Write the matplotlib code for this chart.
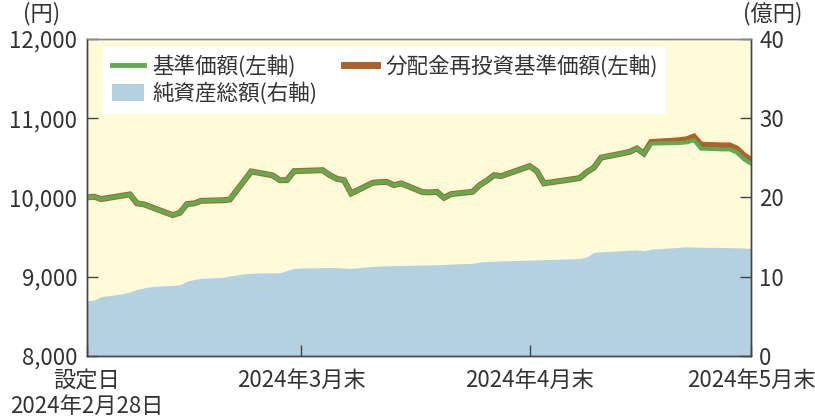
import numpy as np
import pandas as pd
import matplotlib
matplotlib.use("Agg")
import matplotlib.pyplot as plt
import matplotlib.dates as mdates
from matplotlib.lines import Line2D
from matplotlib.patches import Patch
from matplotlib.ticker import FuncFormatter, MultipleLocator

plt.rcParams['font.family'] = ['Noto Sans CJK JP', 'DejaVu Sans']

# 営業日
dates = [
    "2024-02-28", "2024-02-29", "2024-03-01", "2024-03-04", "2024-03-05", "2024-03-06",
    "2024-03-07", "2024-03-08", "2024-03-11", "2024-03-12", "2024-03-13", "2024-03-14",
    "2024-03-15", "2024-03-18", "2024-03-19", "2024-03-21", "2024-03-22", "2024-03-25",
    "2024-03-26", "2024-03-27", "2024-03-28", "2024-03-29",
    "2024-04-01", "2024-04-02", "2024-04-03", "2024-04-04", "2024-04-05", "2024-04-08",
    "2024-04-09", "2024-04-10", "2024-04-11", "2024-04-12", "2024-04-15", "2024-04-16",
    "2024-04-17", "2024-04-18", "2024-04-19", "2024-04-22", "2024-04-23", "2024-04-24",
    "2024-04-25", "2024-04-26", "2024-04-30",
    "2024-05-01", "2024-05-02", "2024-05-07", "2024-05-08", "2024-05-09", "2024-05-10",
    "2024-05-13", "2024-05-14", "2024-05-15", "2024-05-16", "2024-05-17", "2024-05-20",
    "2024-05-21", "2024-05-22", "2024-05-23", "2024-05-24", "2024-05-27", "2024-05-28",
    "2024-05-29", "2024-05-30", "2024-05-31",
]

# 基準価額（円）
nav = [
    10001, 10010, 9980, 10024, 10039, 9926, 9913, 9879, 9778, 9807, 9917, 9926,
    9958, 9965, 9974, 10210, 10329, 10279, 10219, 10219, 10333, 10335,
    10345, 10282, 10236, 10219, 10052, 10185, 10194, 10197, 10156, 10178, 10068, 10064,
    10072, 9996, 10043, 10072, 10156, 10213, 10282, 10270, 10396,
    10333, 10178, 10245, 10320, 10377, 10503, 10557, 10576, 10619, 10556, 10680, 10686,
    10688, 10695, 10724, 10617, 10607, 10607, 10569, 10484, 10427,
]

# 分配金再投資基準価額（円）
nav_reinvest = [
    10001, 10010, 9980, 10024, 10039, 9926, 9913, 9879, 9778, 9807, 9917, 9926,
    9958, 9965, 9974, 10210, 10329, 10279, 10219, 10219, 10333, 10335,
    10345, 10282, 10236, 10219, 10052, 10185, 10194, 10197, 10156, 10178, 10068, 10064,
    10072, 9996, 10043, 10072, 10156, 10213, 10282, 10270, 10396,
    10333, 10178, 10245, 10320, 10377, 10503, 10557, 10576, 10619, 10556, 10700, 10716,
    10723, 10735, 10769, 10667, 10657, 10657, 10619, 10534, 10477,
]

# 純資産総額（億円）
net_assets = [
    6.97, 7.06, 7.5, 7.85, 8.1, 8.4, 8.6, 8.75, 8.92, 8.98, 9.45, 9.65,
    9.8, 9.93, 10.1, 10.35, 10.45, 10.5, 10.48, 10.8, 11.06, 11.1,
    11.15, 11.18, 11.15, 11.1, 11.06, 11.3, 11.35, 11.38, 11.4, 11.42, 11.48, 11.5,
    11.52, 11.55, 11.6, 11.7, 11.85, 11.92, 11.95, 12.0, 12.1,
    12.12, 12.15, 12.3, 12.5, 13.08, 13.15, 13.28, 13.35, 13.4, 13.28, 13.48, 13.65,
    13.72, 13.78, 13.75, 13.72, 13.7, 13.68, 13.65, 13.62, 13.58,
]

tick_dates = ["2024-02-28", "2024-03-29", "2024-04-30", "2024-05-31"]
tick_labels = ["設定日\n2024年2月28日", "2024年3月末", "2024年4月末", "2024年5月末"]

x = pd.to_datetime(dates)
xt = pd.to_datetime(tick_dates)

FS = 16
GREEN = "#5fab52"
BROWN = "#b0612b"
BLUE = "#b3d1e1"
YELLOW = "#fffbd8"
EDGE = "#444444"

fig = plt.figure(figsize=(8.15, 4.2), dpi=100)
ax = fig.add_axes([87 / 815, 1 - 356 / 420, 664 / 815, 317 / 420])
ax2 = ax.twinx()

# 右軸：純資産総額（背面）
ax2.patch.set_visible(True)
ax2.patch.set_facecolor(YELLOW)
ax2.fill_between(x, 0, net_assets, color=BLUE, lw=0)
ax2.set_ylim(0, 40)
ax2.yaxis.set_major_locator(MultipleLocator(10))

# 左軸：基準価額（前面）
ax.set_zorder(ax2.get_zorder() + 1)
ax.patch.set_visible(False)
ax.plot(x, nav_reinvest, color=BROWN, lw=4.3, solid_joinstyle='miter')
ax.plot(x, nav, color=GREEN, lw=2.9, solid_joinstyle='miter')
ax.set_ylim(8000, 12000)
ax.yaxis.set_major_locator(MultipleLocator(1000))
ax.yaxis.set_major_formatter(FuncFormatter(lambda v, p: f"{int(v):,}"))
ax.set_xlim(x[0], x[-1])
ax.set_xticks(xt)
ax.set_xticklabels(tick_labels)

for a in (ax, ax2):
    for s in a.spines.values():
        s.set_color(EDGE)
        s.set_linewidth(1.0)
    a.tick_params(direction='in', length=8, width=1, color=EDGE,
                  labelsize=FS, labelcolor="#333333")
ax.spines['top'].set_color("#888888")
ax2.spines['top'].set_color("#888888")
ax.tick_params(axis='y', pad=7)
ax.tick_params(axis='x', pad=9)
ax2.tick_params(axis='y', pad=6)

fig.text(42 / 815, 1 - 14 / 420, "(円)", ha='center', va='center', fontsize=FS, color="#333333")
fig.text(773 / 815, 1 - 14 / 420, "(億円)", ha='center', va='center', fontsize=FS, color="#333333")

handles = [
    Line2D([], [], color=GREEN, lw=3.5),
    Patch(facecolor=BLUE, edgecolor='none'),
    Line2D([], [], color=BROWN, lw=5),
]
labels = ["基準価額(左軸)", "純資産総額(右軸)", "分配金再投資基準価額(左軸)"]
leg = ax.legend(handles, labels, ncol=2, loc='upper left', bbox_to_anchor=(0.024, 0.975),
                borderaxespad=0, frameon=True, fancybox=False, fontsize=15.5,
                handlelength=1.5, handleheight=0.8, handletextpad=0.4,
                columnspacing=1.25, labelspacing=0.2, borderpad=0.4)
leg.get_frame().set_facecolor("white")
leg.get_frame().set_edgecolor("none")
leg.get_frame().set_alpha(1)
for t in leg.get_texts():
    t.set_color("#333333")

fig.savefig("out.png", dpi=100)
